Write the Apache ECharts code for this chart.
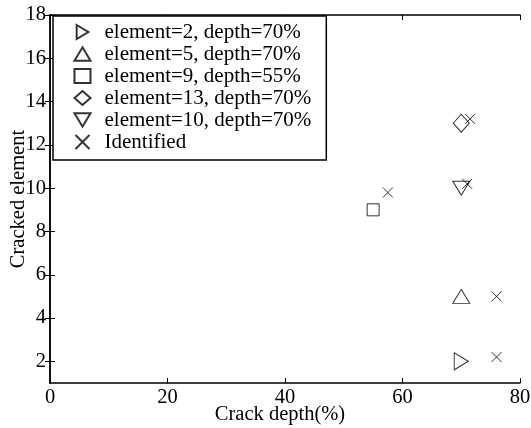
<!DOCTYPE html>
<html>
<head>
<meta charset="utf-8">
<script src="https://cdn.jsdelivr.net/npm/echarts@6/dist/echarts.min.js"></script>
<style>
  html, body { margin: 0; padding: 0; background: #fff; }
  #chart { width: 531px; height: 428px; }
</style>
</head>
<body>
<div id="chart"></div>
<script>
// Actual crack cases: [depth %, element]
const crackElem2 = [[70, 2]];
const crackElem5 = [[70, 5]];
const crackElem9 = [[55, 9]];
const crackElem13 = [[70, 13]];
const crackElem10 = [[70, 10]];
// Identified cracks: [depth %, element]
const identified = [[76, 2.2], [76, 5], [57.5, 9.8], [71.5, 13.2], [71, 10.2]];

const seriesNames = [
  'element=2, depth=70%',
  'element=5, depth=70%',
  'element=9, depth=55%',
  'element=13, depth=70%',
  'element=10, depth=70%',
  'Identified'
];
const xTicks = [0, 20, 40, 60, 80];
const yTicks = [2, 4, 6, 8, 10, 12, 14, 16, 18];

const FONT = 'Liberation Serif';
const crossPath = 'path://M0,0L10,10M10,0L0,10';
const triRight = 'path://M0,0L10,6L0,12Z';
const triUp = 'path://M6,0L12,10L0,10Z';
const triDown = 'path://M0,0L12,0L6,10Z';

const chart = echarts.init(document.getElementById('chart'), null, { renderer: 'canvas' });

const outline = { color: 'none', borderColor: '#000', borderWidth: 1 };

function mk(name, data, symbol, w, h) {
  return {
    name: name,
    type: 'scatter',
    data: data,
    symbol: symbol,
    symbolSize: [w, h],
    itemStyle: outline,
    emphasis: { disabled: true },
    animation: false
  };
}

const axisText = { fontFamily: FONT, fontSize: 20.5, color: '#000' };
const tickStyle = { inside: true, length: 5, lineStyle: { color: '#000', width: 1 } };
const lineStyle = { lineStyle: { color: '#000', width: 1.5 } };

chart.setOption({
  backgroundColor: '#fff',
  animation: false,
  grid: { left: 50, right: 11, top: 15, bottom: 45, containLabel: false, outerBoundsMode: 'none' },
  legend: {
    orient: 'vertical',
    left: 53,
    top: 16,
    padding: [5, 15, 7, 19],
    itemWidth: 16,
    itemHeight: 14,
    itemGap: 0,
    borderColor: '#000',
    borderWidth: 1.5,
    borderRadius: 0,
    backgroundColor: '#fff',
    textStyle: { fontFamily: FONT, fontSize: 21, color: '#000', lineHeight: 22, padding: [0, 0, 0, 9] },
    data: seriesNames
  },
  xAxis: [{
    type: 'value', min: 0, max: 80, interval: 20,
    name: 'Crack depth(%)', nameLocation: 'middle', nameGap: 21, nameMoveOverlap: false,
    nameTextStyle: Object.assign({ padding: [0, 10, 0, 0] }, axisText),
    axisLine: lineStyle,
    axisTick: tickStyle,
    axisLabel: Object.assign({ margin: 4, customValues: xTicks }, axisText),
    splitLine: { show: false }
  }, {
    type: 'value', min: 0, max: 80, interval: 20, position: 'top',
    axisLine: lineStyle,
    axisTick: tickStyle,
    axisLabel: { show: false },
    splitLine: { show: false }
  }],
  yAxis: [{
    type: 'value', min: 1, max: 18,
    name: 'Cracked element', nameLocation: 'middle', nameGap: 21, nameMoveOverlap: false,
    nameTextStyle: axisText,
    axisLine: lineStyle,
    axisTick: Object.assign({ customValues: yTicks }, tickStyle),
    axisLabel: Object.assign({ margin: 4, customValues: yTicks }, axisText),
    splitLine: { show: false }
  }, {
    type: 'value', min: 1, max: 18, position: 'right',
    axisLine: lineStyle,
    axisTick: Object.assign({ customValues: yTicks }, tickStyle),
    axisLabel: { show: false },
    splitLine: { show: false }
  }],
  series: [
    mk(seriesNames[0], crackElem2, triRight, 14, 17),
    mk(seriesNames[1], crackElem5, triUp, 17, 14),
    mk(seriesNames[2], crackElem9, 'rect', 12, 12),
    mk(seriesNames[3], crackElem13, 'diamond', 16, 18),
    mk(seriesNames[4], crackElem10, triDown, 17, 14),
    mk(seriesNames[5], identified, crossPath, 10, 10)
  ]
});
</script>
</body>
</html>
